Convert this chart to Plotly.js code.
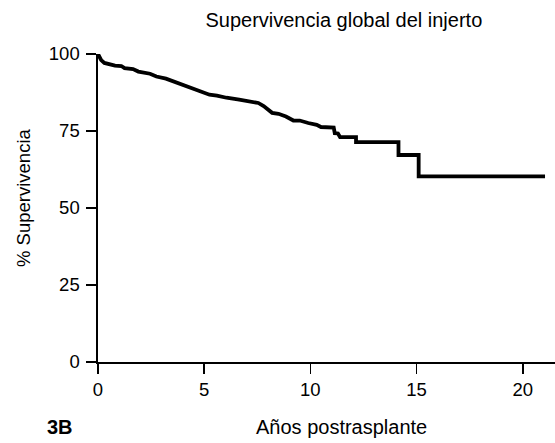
<!DOCTYPE html>
<html>
<head>
<meta charset="utf-8">
<script src="https://cdn.plot.ly/plotly-3.0.1.min.js"></script>
<style>html,body{margin:0;padding:0;background:#fff;}#chart{width:555px;height:443px;}</style>
</head>
<body>
<div id="chart"></div>
<script>
// Kaplan-Meier graft survival vertices (repeated years = vertical steps)
var years = [0, 0.05, 0.15, 0.3, 0.55, 0.8, 1.1, 1.25, 1.65, 1.9, 2.45, 2.75, 3.2, 3.55, 3.85, 4.3, 4.8, 5.25, 5.6, 6.05, 6.65, 7.15, 7.55, 7.8, 8.1, 8.2, 8.5, 8.85, 9.2, 9.5, 9.9, 10.3, 10.5, 11.0, 11.1, 11.15, 11.3, 11.4, 12.15, 12.15, 14.15, 14.15, 15.1, 15.1, 21.05];
var survival = [100, 99.2, 98.0, 97.1, 96.5, 96.2, 96.1, 95.4, 95.1, 94.3, 93.6, 92.7, 92.0, 91.1, 90.5, 89.2, 87.9, 86.8, 86.5, 85.8, 85.2, 84.6, 84.1, 83.1, 81.4, 80.9, 80.6, 79.7, 78.4, 78.4, 77.6, 77.0, 76.3, 76.1, 76.1, 74.3, 74.2, 73.0, 73.0, 71.4, 71.4, 67.2, 67.2, 60.3, 60.3];
var xTicks = [0, 5, 10, 15, 20];
var yTicks = [0, 25, 50, 75, 100];
var titleText = "Supervivencia global del injerto";
var xTitle = "Años postrasplante";
var yTitle = "% Supervivencia";
var panelLabel = "3B";

var FONT = "Liberation Sans, Arial, Helvetica, sans-serif";

var trace = {
  x: years, y: survival, type: "scatter", mode: "lines",
  line: {shape: "linear", color: "#000", width: 3.8},
  hoverinfo: "skip", showlegend: false
};

var axisCommon = {
  showgrid: false, zeroline: false, showline: true, linecolor: "#000", linewidth: 1.6,
  ticks: "outside", ticklen: 10, tickwidth: 1.6, tickcolor: "#000",
  tickfont: {family: FONT, size: 18.5, color: "#000"}, fixedrange: true
};

var layout = {
  width: 555, height: 443,
  margin: {l: 98, r: 0, t: 54, b: 81, pad: 0},
  paper_bgcolor: "#fff", plot_bgcolor: "#fff",
  title: {text: titleText, font: {family: FONT, size: 20, color: "#000"},
          xref: "paper", x: 0.538, xanchor: "center", yref: "container", y: 1 - 20/443, yanchor: "middle"},
  xaxis: Object.assign({}, axisCommon, {range: [0, 21.52], tickmode: "array", tickvals: xTicks, ticklabelstandoff: 0}),
  yaxis: Object.assign({}, axisCommon, {range: [0, 100], tickmode: "array", tickvals: yTicks, ticklabelstandoff: 3}),
  annotations: [
    {text: xTitle, xref: "paper", yref: "paper", x: (341 - 98) / 457, y: (362 - 427) / 308,
     xanchor: "center", yanchor: "middle", showarrow: false, font: {family: FONT, size: 20, color: "#000"}},
    {text: "<b>" + panelLabel + "</b>", xref: "paper", yref: "paper", x: (60 - 98) / 457, y: (362 - 427) / 308,
     xanchor: "center", yanchor: "middle", showarrow: false, font: {family: FONT, size: 20, color: "#000"}},
    {text: yTitle, xref: "paper", yref: "paper", x: (23 - 98) / 457, y: (362 - 198) / 308, textangle: -90,
     xanchor: "center", yanchor: "middle", showarrow: false, font: {family: FONT, size: 18.5, color: "#000"}}
  ]
};

Plotly.newPlot("chart", [trace], layout, {displayModeBar: false, staticPlot: true});
</script>
</body>
</html>
